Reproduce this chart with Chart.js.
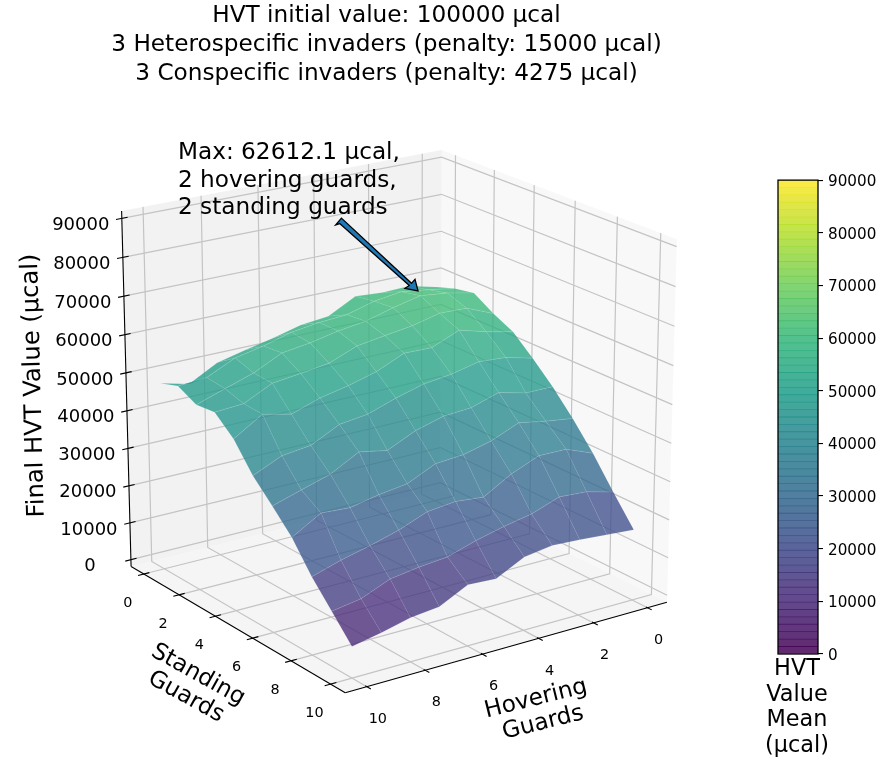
<!DOCTYPE html>
<html>
<head>
<meta charset="utf-8">
<style>
body { margin:0; background:#fff; }
#surface { position:absolute; left:0; top:0; }
#colorbar { position:absolute; left:750px; top:166px; }
</style>
</head>
<body>
<canvas id="surface" width="882" height="763"></canvas>
<canvas id="colorbar" width="132" height="597"></canvas>
<script src="https://cdn.jsdelivr.net/npm/chart.js@4"></script>
<script>
// HVT value surface, Chart.js has no 3d so the points go through a small camera first

const titleLines = ['HVT initial value: 100000 µcal', '3 Heterospecific invaders (penalty: 15000 µcal)', '3 Conspecific invaders (penalty: 4275 µcal)'];
const maxNote = ['Max: 62612.1 µcal,', '2 hovering guards,', '2 standing guards'];
const colorbarLabel = ['HVT', 'Value', 'Mean', '(µcal)'];
const hoveringGuards = [0,1,2,3,4,5,6,7,8,9,10];
const standingGuards = [0,1,2,3,4,5,6,7,8,9,10];
const hoverTicks = [0,2,4,6,8,10];
const standTicks = [0,2,4,6,8,10];
const valueTicks = [0,10000,20000,30000,40000,50000,60000,70000,80000,90000];

// one row per standing guard count, hovering 0..10 left to right
const standing0  = [57500,59300,59100,59600,55800,55100,53200,51600,49900,45900,47800];
const standing1  = [59300,60500,61500,60500,58500,58000,57000,55000,53500,50000,49500];
const standing2  = [60300,61800,62612,61000,59000,58000,56500,55500,51900,49500,47000];
const standing3  = [57000,60000,60200,58500,57500,56400,53500,52500,51600,48000,47500];
const standing4  = [54400,56000,58000,55000,55200,52000,50000,48500,46000,47700,43100];
const standing5  = [49700,51500,52000,50400,49500,47500,45000,44100,40400,39500,36200];
const standing6  = [44500,44500,46300,44000,43500,41500,38100,39500,35500,33300,31000];
const standing7  = [38500,39500,40800,37800,36000,35400,32000,31000,29500,30000,25600];
const standing8  = [31800,34600,34700,31700,27500,28200,27400,24500,22400,20600,18300];
const standing9  = [24100,26000,26500,23900,22500,20700,18400,17700,16600,13500,12300];
const standing10 = [16800,17400,18000,18400,17300,13600,14000,10300,9500,7700,6200];
const hvtRows = [standing0,standing1,standing2,standing3,standing4,standing5,standing6,standing7,standing8,standing9,standing10];

const viridis = [[68,1,84],[72,40,120],[62,74,137],[49,104,142],[38,130,142],[31,158,137],[53,183,121],[109,205,89],[180,222,44],[253,231,37]];
const FONT = '"DejaVu Sans"';
const LABEL_SIZE = 23.2;

function viridisColor(t, alpha){
  const p = Math.min(Math.max(t,0),1)*(viridis.length-1);
  const i = Math.min(Math.floor(p), viridis.length-2);
  const c = viridis[i].map((a,k)=>Math.round(a+(viridis[i+1][k]-a)*(p-i)));
  return `rgba(${c[0]},${c[1]},${c[2]},${alpha})`;
}

// --- camera, same formula as mplot3d ---
const AZIM = 55*Math.PI/180, ELEV = 20*Math.PI/180, DIST = 10;
const n = [Math.cos(ELEV)*Math.cos(AZIM), Math.cos(ELEV)*Math.sin(AZIM), Math.sin(ELEV)];
const eye = [0.5+DIST*n[0], 0.5+DIST*n[1], 0.5+DIST*n[2]];
const ul = Math.hypot(n[0],n[1]);
const u = [-n[1]/ul, n[0]/ul, 0];
const v = [n[1]*u[2]-n[2]*u[1], n[2]*u[0]-n[0]*u[2], n[0]*u[1]-n[1]*u[0]];
function dot(a,b){ return a[0]*b[0]+a[1]*b[1]+a[2]*b[2]; }
function project(w){
  const d = [w[0]-eye[0], w[1]-eye[1], w[2]-eye[2]];
  const depth = -dot(n,d);
  return {x: dot(u,d)/depth*DIST, y: dot(v,d)/depth*DIST, depth};
}
// data units to the unit box
const wh = h => (h+0.5)/11;
const ws = s => (s+0.5)/11;
const wz = z => z/90000;
const LO = -1/48, HI = 1+1/48;

const paint = [];
function addShape(corners, color, edge){
  paint.push({data:corners.map(project), showLine:true, fill:'shape', backgroundColor:color, borderColor:edge||color, borderWidth:edge?0.5:0, pointRadius:0});
}
function addLine(points, color, width){
  paint.push({data:points.map(project), showLine:true, fill:false, borderColor:color, borderWidth:width, pointRadius:0});
}

// panes
addShape([[LO,LO,LO],[LO,HI,LO],[LO,HI,HI],[LO,LO,HI]], 'rgba(242,242,242,0.5)');
addShape([[LO,LO,LO],[HI,LO,LO],[HI,LO,HI],[LO,LO,HI]], 'rgba(230,230,230,0.5)');
addShape([[LO,LO,LO],[HI,LO,LO],[HI,HI,LO],[LO,HI,LO]], 'rgba(236,236,236,0.5)');

// grid
const GRID = 'rgb(196,196,196)';
hoverTicks.forEach(h=>addLine([[wh(h),HI,LO],[wh(h),LO,LO],[wh(h),LO,HI]], GRID, 1.2));
standTicks.forEach(s=>addLine([[HI,ws(s),LO],[LO,ws(s),LO],[LO,ws(s),HI]], GRID, 1.2));
valueTicks.forEach(z=>addLine([[HI,LO,wz(z)],[LO,LO,wz(z)],[LO,HI,wz(z)]], GRID, 1.2));

// axis lines and tick marks
addLine([[HI,HI,LO],[LO,HI,LO]], '#000', 1.1);
addLine([[HI,LO,LO],[HI,HI,LO]], '#000', 1.1);
addLine([[HI,LO,LO],[HI,LO,HI]], '#000', 1.1);
hoverTicks.forEach(h=>addLine([[wh(h),HI-0.007,LO],[wh(h),HI+0.018,LO]], '#000', 1.1));
standTicks.forEach(s=>addLine([[HI-0.018,ws(s),LO],[HI+0.018,ws(s),LO]], '#000', 1.1));
valueTicks.forEach(z=>addLine([[HI-0.018,LO,wz(z)],[HI+0.018,LO,wz(z)]], '#000', 1.1));

// surface facets, far ones first
const facets = [];
for(let s=0;s<standingGuards.length-1;s++){
  for(let h=0;h<hoveringGuards.length-1;h++){
    const cells = [[h,s],[h+1,s],[h+1,s+1],[h,s+1]];
    const corners = cells.map(([a,b])=>[wh(hoveringGuards[a]),ws(standingGuards[b]),wz(hvtRows[b][a])]);
    const mean = cells.reduce((t,[a,b])=>t+hvtRows[b][a],0)/4;
    const depth = corners.reduce((t,c)=>t+project(c).depth,0)/4;
    facets.push({corners,mean,depth});
  }
}
facets.sort((a,b)=>b.depth-a.depth);
facets.forEach(f=>addShape(f.corners, viridisColor(f.mean/90000, 0.77), 'rgba(255,255,255,0.2)'));

function drawText(ctx, text, x, y, size, align, rotation){
  ctx.save();
  ctx.translate(x,y);
  if(rotation) ctx.rotate(rotation*Math.PI/180);
  ctx.font = `${size}px ${FONT}`;
  ctx.fillStyle = '#000';
  ctx.textAlign = align || 'center';
  ctx.textBaseline = 'middle';
  ctx.fillText(text,0,0);
  ctx.restore();
}

const labelsPlugin = {
  id:'labels3d',
  afterDatasetsDraw(chart){
    const {ctx, scales} = chart;
    const px = w => { const p = project(w); return [scales.x.getPixelForValue(p.x), scales.y.getPixelForValue(p.y)]; };
    valueTicks.forEach(z=>{ const p = px([HI,LO,wz(z)]); drawText(ctx,String(z),p[0]-41,p[1]+7,18); });
    standTicks.forEach(s=>{ const p = px([HI,ws(s),LO]); drawText(ctx,String(s),p[0]-16,p[1]+29,14.4); });
    hoverTicks.forEach(h=>{ const p = px([wh(h),HI,LO]); drawText(ctx,String(h),p[0]+11,p[1]+32.5,14.4); });

    drawText(ctx,'Final HVT Value (µcal)',34,385.5,24.2,'center',-91.5);
    drawText(ctx,'Standing',198,675,LABEL_SIZE,'center',29);
    drawText(ctx,'Guards',186,697,LABEL_SIZE,'center',29);
    drawText(ctx,'Hovering',536,699,LABEL_SIZE,'center',-14);
    drawText(ctx,'Guards',543,723,LABEL_SIZE,'center',-14);

    // arrow from the note down to the maximum
    const tip = px([wh(2),ws(2),wz(62612)]);
    const ax = tip[0]-2.3, ay = tip[1]-5;
    const arrow = [[0,0],[-3,-11.5],[-6.5,-7.5],[-76.6,-72.7],[-82.3,-66],[-78.3,-67.3],[-8.7,-5.4],[-13,-2.5]];
    ctx.save();
    ctx.beginPath();
    arrow.forEach(([dx,dy],i)=>{ i ? ctx.lineTo(ax+dx,ay+dy) : ctx.moveTo(ax+dx,ay+dy); });
    ctx.closePath();
    ctx.fillStyle = '#1f77b4';
    ctx.strokeStyle = '#000';
    ctx.lineWidth = 1.3;
    ctx.fill();
    ctx.stroke();
    ctx.restore();

    maxNote.forEach((line,i)=>drawText(ctx,line,178,153+i*27.5,LABEL_SIZE,'left'));
  }
};

new Chart(document.getElementById('surface'), {
  type:'scatter',
  data:{ datasets: paint.slice().reverse() },
  plugins:[labelsPlugin],
  options:{
    responsive:false, animation:false, events:[],
    layout:{ padding:{left:0,right:109,top:0,bottom:0} },
    plugins:{
      legend:{display:false},
      tooltip:{enabled:false},
      title:{
        display:true, text:titleLines, fullSize:false, color:'#000',
        font:{family:FONT,size:LABEL_SIZE,weight:'normal',lineHeight:28.7/LABEL_SIZE},
        padding:{top:2,bottom:6.4}
      }
    },
    scales:{
      x:{type:'linear',display:false,min:-1.05313,max:1.00343},
      y:{type:'linear',display:false,min:-0.96801,max:0.85356}
    }
  }
});

// --- colour bar ---
const CB_LEVELS = 64;
const cbSets = [];
for(let i=0;i<CB_LEVELS;i++){
  const lo = 90000*i/CB_LEVELS, hi = 90000*(i+1)/CB_LEVELS;
  cbSets.push({data:[[lo,Math.min(hi+35,90000)]], backgroundColor:viridisColor((i+0.5)/CB_LEVELS,0.85), borderWidth:0, barPercentage:1, categoryPercentage:1, grouped:false});
}
const framePlugin = {
  id:'cbFrame',
  afterDatasetsDraw(chart){
    const {ctx, chartArea:a} = chart;
    ctx.save();
    ctx.strokeStyle = '#000';
    ctx.lineWidth = 1.3;
    ctx.strokeRect(a.left,a.top,a.right-a.left,a.bottom-a.top);
    ctx.restore();
    const cx = (a.left+a.right)/2 - 1;
    colorbarLabel.forEach((line,i)=>drawText(ctx,line,cx,a.bottom+15+i*25.7,22.4));
  }
};
new Chart(document.getElementById('colorbar'), {
  type:'bar',
  data:{ labels:[''], datasets:cbSets },
  plugins:[framePlugin],
  options:{
    responsive:false, animation:false, events:[],
    layout:{ padding:{left:28,right:0,top:10,bottom:0} },
    plugins:{ legend:{display:false}, tooltip:{enabled:false} },
    scales:{
      x:{
        grid:{display:false}, border:{display:false}, ticks:{display:false},
        afterFit(s){ s.height = 109; }
      },
      y:{
        position:'right', min:0, max:90000,
        grid:{drawOnChartArea:false,drawTicks:true,tickLength:5,color:'#000',lineWidth:1.1},
        border:{display:false},
        ticks:{stepSize:10000,padding:5,labelOffset:2,color:'#000',font:{family:FONT,size:15.2},callback:value=>String(value)},
        afterFit(s){ s.width = 64; }
      }
    }
  }
});
</script>
</body>
</html>
